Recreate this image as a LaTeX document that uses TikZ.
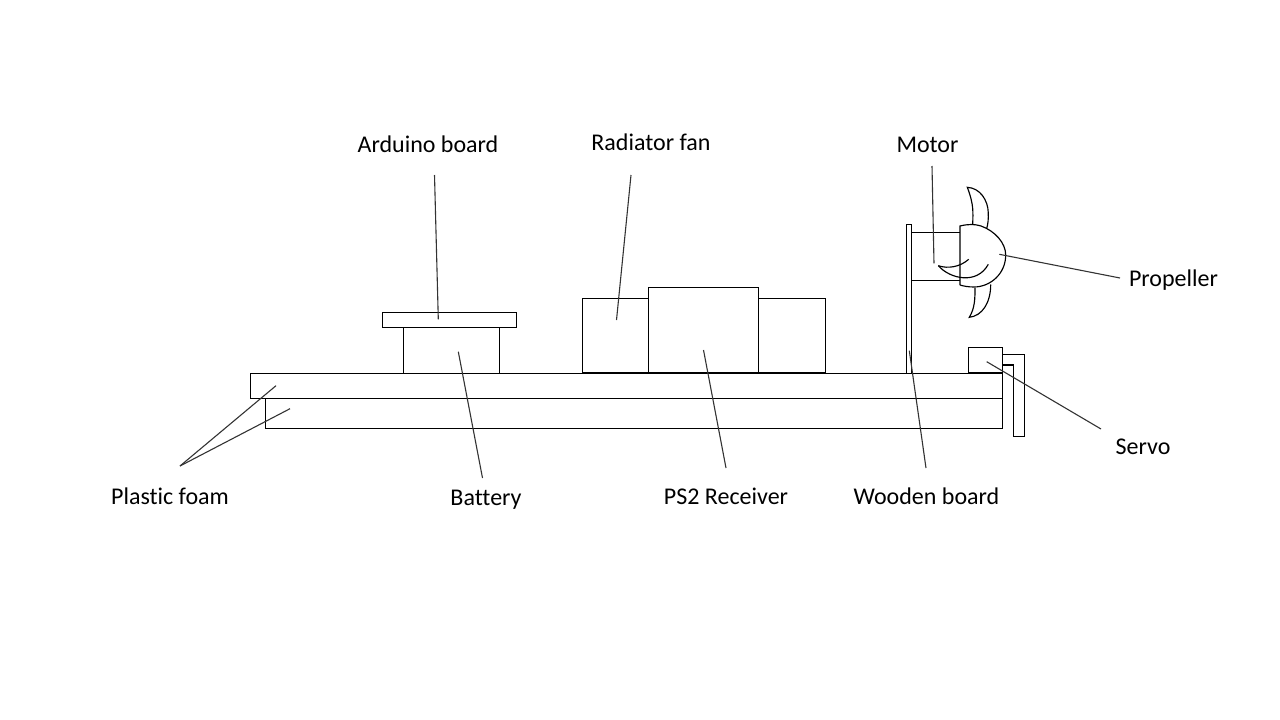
\documentclass[tikz,border=0pt]{standalone}
\usepackage{fontspec}
\setmainfont[RawFeature={-liga;-clig;-dlig}]{Carlito}
\begin{document}
\begin{tikzpicture}[x=1pt,y=-1pt,
  part/.style={draw=black,line width=1.15pt,fill=none},
  boxpart/.style={part,outer sep=0pt,inner sep=0pt,anchor=north west},
  leader/.style={draw=black!80,line width=1.1pt},
  lab/.style={font=\fontsize{24}{28}\selectfont,text=black,inner sep=0pt,anchor=base}]
\useasboundingbox (0,0) rectangle (1280,720);
% labels
\node[lab] (arduino) at (428,152.7) {Arduino board};
\node[lab] (radiator) at (651,150.5) {Radiator fan};
\node[lab] (motor) at (927.5,152.3) {Motor};
\node[lab] (propeller) at (1173.5,286.3) {Propeller};
\node[lab] (servo) at (1143,454.5) {Servo};
\node[lab] (wooden) at (926.5,504.2) {Wooden board};
\node[lab] (ps2) at (726,504.2) {PS2 Receiver};
\node[lab] (battery) at (486,505.5) {Battery};
\node[lab] (foam) at (170,504.2) {Plastic foam};
% body
\node[boxpart,minimum width=752.4pt,minimum height=25pt] (foamtop) at (250.3,373.3) {};
\node[boxpart,minimum width=737.4pt,minimum height=30pt] (foambottom) at (265.3,398.3) {};
\node[boxpart,minimum width=96pt,minimum height=46pt] (batterybox) at (403.3,327.3) {};
\node[boxpart,minimum width=134.4pt,minimum height=15pt] (arduinobox) at (382.3,312.3) {};
\node[boxpart,minimum width=243pt,minimum height=74.2pt] (fanbox) at (582.3,298.3) {};
\node[boxpart,fill=white,minimum width=110pt,minimum height=85.2pt] (ps2box) at (648.3,287.3) {};
\node[boxpart,minimum width=4.6pt,minimum height=149pt] (board) at (906.7,224.3) {};
\node[boxpart,minimum width=34.4pt,minimum height=25pt] (servobox) at (968.3,347.3) {};
\draw[part] (1002.7,354.3) -- (1024.3,354.3) -- (1024.3,436.7) -- (1013.3,436.7) -- (1013.3,365) -- (1002.7,365);
% motor
\draw[part] (911.3,232.3) -- (960,232.3);
\draw[part] (911.3,280.3) -- (960,280.3);
% dome
\draw[part] (960,285) -- (960,226) .. controls (968,224) and (975,224) .. (981,226)
  .. controls (995,231) and (1005.7,243) .. (1005.7,255)
  .. controls (1005.7,274) and (990,287) .. (974,287)
  .. controls (968,287) and (963,286) .. (960,285);
% blades
\draw[part] (972.7,224.5) .. controls (973,212) and (974,205) .. (967.3,187.3)
  .. controls (980,188) and (988,200) .. (988.3,213) .. controls (988.5,219) and (988,224) .. (986.7,228.5);
\draw[part] (975,288) .. controls (975,298) and (975,308) .. (969.3,317.3)
  .. controls (982,316) and (990.7,303) .. (990.7,284.5);
% inner arcs
\draw[part] (938.3,265.7) .. controls (948,269) and (960,267) .. (968.7,259.3);
\draw[part] (938.3,265.7) .. controls (950,279) and (977,285) .. (988.3,264.3);
% leader ends
\coordinate (a1) at (434.5,175); \coordinate (a2) at (438.3,319.3);
\coordinate (r1) at (631,175); \coordinate (r2) at (616.5,320);
\coordinate (m1) at (932,166); \coordinate (m2) at (934,263.3);
\coordinate (p1) at (1120,278); \coordinate (p2) at (999.3,254.3);
\coordinate (s1) at (1101,429); \coordinate (s2) at (986.7,361.7);
\coordinate (w1) at (926,468); \coordinate (w2) at (909.3,350.7);
\coordinate (q1) at (726,468); \coordinate (q2) at (703.5,350);
\coordinate (b1) at (482.5,478); \coordinate (b2) at (458.3,351.7);
\coordinate (f0) at (180,466); \coordinate (f1) at (276,385.7); \coordinate (f2) at (290,408.7);
\draw[leader] (a1) -- (a2);
\draw[leader] (r1) -- (r2);
\draw[leader] (m1) -- (m2);
\draw[leader] (p1) -- (p2);
\draw[leader] (s1) -- (s2);
\draw[leader] (w1) -- (w2);
\draw[leader] (q1) -- (q2);
\draw[leader] (b1) -- (b2);
\draw[leader] (f0) -- (f1);
\draw[leader] (f0) -- (f2);
\end{tikzpicture}
\end{document}
